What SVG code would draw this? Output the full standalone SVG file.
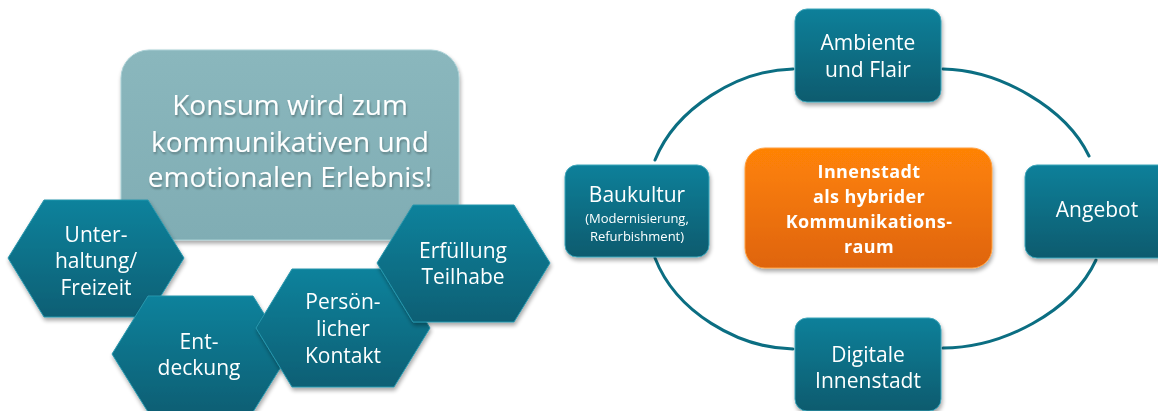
<svg xmlns="http://www.w3.org/2000/svg" width="1158" height="411" viewBox="0 0 1158 411">
  <defs>
    <linearGradient id="gTeal" x1="0" y1="0" x2="0" y2="1">
      <stop offset="0" stop-color="#0a809a"/>
      <stop offset="1" stop-color="#085b6e"/>
    </linearGradient>
    <linearGradient id="gHex" x1="0" y1="0" x2="0" y2="1">
      <stop offset="0" stop-color="#08829c"/>
      <stop offset="1" stop-color="#075f74"/>
    </linearGradient>
    <linearGradient id="gBig" x1="0" y1="0" x2="0" y2="1">
      <stop offset="0" stop-color="#8ab7bd"/>
      <stop offset="1" stop-color="#80adb4"/>
    </linearGradient>
    <linearGradient id="gOrange" x1="0" y1="0" x2="0" y2="1">
      <stop offset="0" stop-color="#ff8306"/>
      <stop offset="1" stop-color="#df640c"/>
    </linearGradient>
    <filter id="shadow" x="-10%" y="-10%" width="120%" height="125%">
      <feGaussianBlur in="SourceAlpha" stdDeviation="2"/>
      <feOffset dx="1" dy="3" result="b"/>
      <feComponentTransfer><feFuncA type="linear" slope="0.35"/></feComponentTransfer>
      <feMerge><feMergeNode/><feMergeNode in="SourceGraphic"/></feMerge>
    </filter>
    <filter id="tshadow" x="-10%" y="-20%" width="120%" height="150%">
      <feGaussianBlur in="SourceAlpha" stdDeviation="1"/>
      <feOffset dx="1" dy="1.5"/>
      <feComponentTransfer><feFuncA type="linear" slope="0.3"/></feComponentTransfer>
      <feMerge><feMergeNode/><feMergeNode in="SourceGraphic"/></feMerge>
    </filter>
  </defs>
  <style>
    .t { font-family: "Open Sans", "Noto Sans", "DejaVu Sans", sans-serif; fill: #ffffff; text-anchor: middle; }
    .big { font-size: 28px; }
    .hx { font-size: 21px; }
    .bx { font-size: 21px; }
    .sm { font-size: 13px; }
    .bold { font-weight: bold; font-size: 18px; letter-spacing: 0.4px; }
    .teal { fill: url(#gTeal); stroke: #3fa6ba; stroke-width: 1; }
    .hex { fill: url(#gHex); stroke: #2a97ad; stroke-width: 1; }
    .ring { fill: none; stroke: #0b6e82; stroke-width: 3; stroke-linecap: round; }
  </style>

  <!-- Left side -->
  <g id="node-konsum" filter="url(#shadow)">
    <rect x="121" y="50" width="338" height="190" rx="28" fill="url(#gBig)" stroke="#a9d0d5" stroke-width="1"/>
    <g filter="url(#tshadow)">
      <text class="t big" x="290" y="115">Konsum wird zum</text>
      <text class="t big" x="290" y="152">kommunikativen und</text>
      <text class="t big" x="290" y="187">emotionalen Erlebnis!</text>
    </g>
  </g>

  <g id="node-unterhaltung" filter="url(#shadow)">
    <polygon class="hex" points="8,258 44,200 148,200 184,258 148,317 44,317"/>
    <text class="t hx" x="96" y="242">Unter-</text>
    <text class="t hx" x="96" y="268">haltung/</text>
    <text class="t hx" x="96" y="295">Freizeit</text>
  </g>

  <g id="node-entdeckung" filter="url(#shadow)">
    <polygon class="hex" points="112,354 148,296 253,296 289,354 253,412 148,412"/>
    <text class="t hx" x="199" y="349">Ent-</text>
    <text class="t hx" x="199" y="375">deckung</text>
  </g>

  <g id="node-kontakt" filter="url(#shadow)">
    <polygon class="hex" points="256,328 292,269 394,269 430,328 394,387 292,387"/>
    <text class="t hx" x="343" y="309">Persön-</text>
    <text class="t hx" x="343" y="336">licher</text>
    <text class="t hx" x="343" y="363">Kontakt</text>
  </g>

  <g id="node-erfuellung" filter="url(#shadow)">
    <polygon class="hex" points="377,263 413,205 514,205 550,263 514,322 413,322"/>
    <text class="t hx" x="463" y="258">Erfüllung</text>
    <text class="t hx" x="463" y="284">Teilhabe</text>
  </g>

  <!-- Right side connectors -->
  <g id="connectors">
    <path class="ring" d="M793,69 C738,70 676,108 655,160"/>
    <path class="ring" d="M943,69 C1000,70 1066,108 1089,156"/>
    <path class="ring" d="M655,258 C676,312 738,348 793,349"/>
    <path class="ring" d="M1096,260 C1072,312 1002,348 943,348"/>
  </g>

  <g id="node-zentrum" filter="url(#shadow)">
    <rect x="745" y="148" width="247" height="120" rx="20" fill="url(#gOrange)" stroke="#ffa040" stroke-width="1"/>
    <text class="t bold" x="869" y="178">Innenstadt</text>
    <text class="t bold" x="869" y="203">als hybrider</text>
    <text class="t bold" x="869" y="228">Kommunikations-</text>
    <text class="t bold" x="869" y="253">raum</text>
  </g>

  <g id="node-ambiente" filter="url(#shadow)">
    <rect class="teal" x="795" y="9" width="146" height="93" rx="12"/>
    <text class="t bx" x="868" y="50">Ambiente</text>
    <text class="t bx" x="868" y="77">und Flair</text>
  </g>

  <g id="node-angebot" filter="url(#shadow)">
    <rect class="teal" x="1025" y="165" width="146" height="93" rx="12"/>
    <text class="t bx" x="1097" y="217">Angebot</text>
  </g>

  <g id="node-digitale" filter="url(#shadow)">
    <rect class="teal" x="795" y="318" width="146" height="93" rx="12"/>
    <text class="t bx" x="868" y="362">Digitale</text>
    <text class="t bx" x="868" y="388">Innenstadt</text>
  </g>

  <g id="node-baukultur" filter="url(#shadow)">
    <rect class="teal" x="565" y="165" width="144" height="92" rx="12"/>
    <text class="t bx" x="637" y="202">Baukultur</text>
    <text class="t sm" x="637" y="223">(Modernisierung,</text>
    <text class="t sm" x="637" y="241">Refurbishment)</text>
  </g>
</svg>
